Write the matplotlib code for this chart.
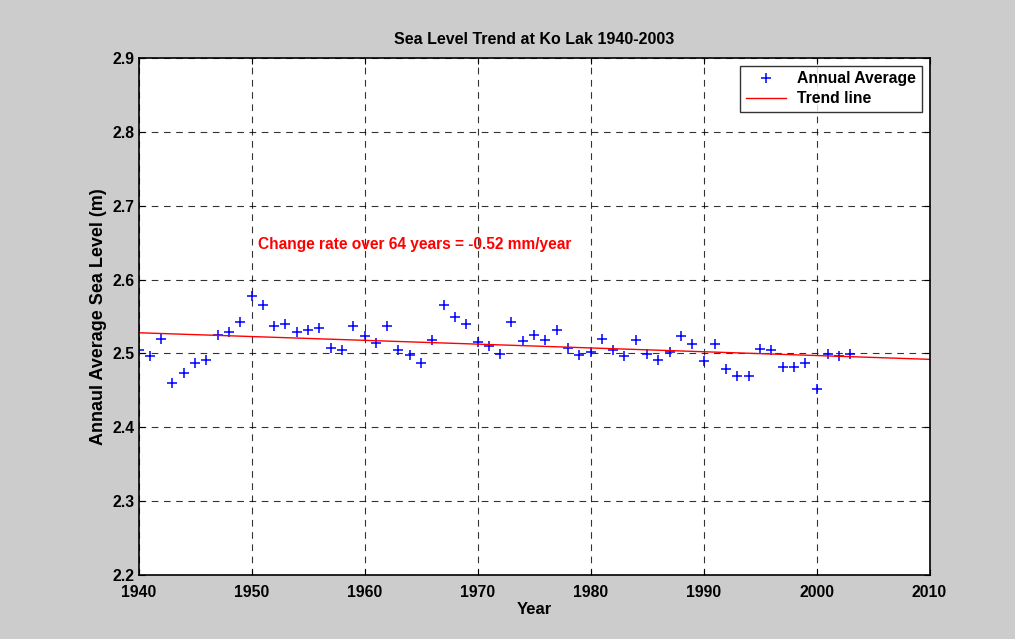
import matplotlib
matplotlib.use('Agg')
import matplotlib.pyplot as plt

plt.rcParams['font.family'] = ['Liberation Sans', 'DejaVu Sans']
plt.rcParams['font.weight'] = 'bold'

# annual average sea level
years = list(range(1940, 2004))
sea_level = [2.505, 2.497, 2.520, 2.460, 2.473, 2.487, 2.491, 2.525, 2.529, 2.543,
             2.578, 2.565, 2.537, 2.540, 2.529, 2.532, 2.534, 2.507, 2.504, 2.537,
             2.524, 2.514, 2.537, 2.505, 2.498, 2.487, 2.518, 2.566, 2.549, 2.540,
             2.516, 2.510, 2.499, 2.543, 2.517, 2.525, 2.518, 2.532, 2.508, 2.498,
             2.502, 2.520, 2.505, 2.497, 2.518, 2.499, 2.491, 2.502, 2.524, 2.513,
             2.490, 2.513, 2.479, 2.469, 2.470, 2.506, 2.505, 2.482, 2.482, 2.487,
             2.452, 2.499, 2.496, 2.499]

trend_years = [1940, 2010]
trend_values = [2.528, 2.492]

xticks = [1940, 1950, 1960, 1970, 1980, 1990, 2000, 2010]
yticks = [2.2, 2.3, 2.4, 2.5, 2.6, 2.7, 2.8, 2.9]

fig = plt.figure(figsize=(10.15, 6.39), dpi=100, facecolor='#cccccc')
ax = fig.add_axes([0.1365, 0.1002, 0.7793, 0.809])

ax.plot(years, sea_level, '+', color='blue', markersize=7, markeredgewidth=1.1,
        label='Annual Average')
ax.plot(trend_years, trend_values, '-', color='red', linewidth=1, label='Trend line')

ax.set_xlim(1940, 2010)
ax.set_ylim(2.2, 2.9)
ax.set_xticks(xticks)
ax.set_yticks(yticks)
ax.set_xticklabels([str(t) for t in xticks], fontsize=11.3, fontweight='bold')
ax.set_yticklabels(['%.1f' % t for t in yticks], fontsize=11.3, fontweight='bold')
ax.tick_params(direction='in', top=True, right=True, length=4)
ax.tick_params(axis='x', pad=7.5)
ax.tick_params(axis='y', pad=3)
ax.grid(True, color='black', linestyle=(0, (6, 5)), linewidth=0.8, alpha=0.8)

for s in ax.spines.values():
    s.set_linewidth(1.2)

ax.set_title('Sea Level Trend at Ko Lak 1940-2003', fontsize=11.5, fontweight='bold', pad=10)
ax.set_xlabel('Year', fontsize=12, fontweight='bold', labelpad=1)
ax.set_ylabel('Annaul Average Sea Level (m)', fontsize=13, fontweight='bold', labelpad=4)

ax.text(1950.6, 2.647, 'Change rate over 64 years = -0.52 mm/year', color='red',
        fontsize=11.2, fontweight='bold', va='center', ha='left')

leg = ax.legend(loc='upper right', fontsize=11.3, frameon=True, fancybox=False,
                edgecolor='black', borderaxespad=0.5, handlelength=2.6,
                handletextpad=0.7, borderpad=0.35, labelspacing=0.3)
leg.get_frame().set_linewidth(1)
for t in leg.get_texts():
    t.set_fontweight('bold')

fig.savefig('out.png', dpi=100, facecolor=fig.get_facecolor())
